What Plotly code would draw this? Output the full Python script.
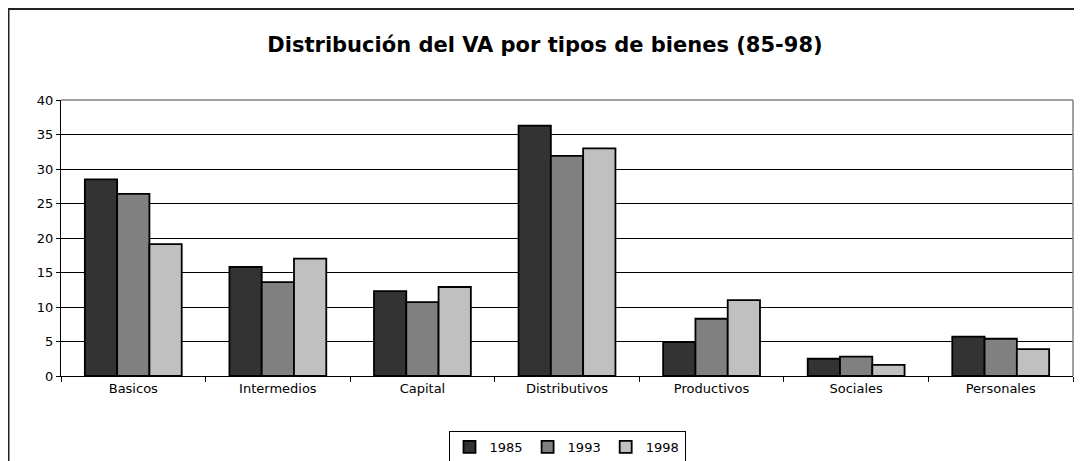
import plotly.graph_objects as go

categories = ["Basicos", "Intermedios", "Capital", "Distributivos", "Productivos", "Sociales", "Personales"]
years = ["1985", "1993", "1998"]
v1985 = [28.5, 15.8, 12.3, 36.3, 4.9, 2.5, 5.7]
v1993 = [26.4, 13.6, 10.7, 31.9, 8.3, 2.8, 5.4]
v1998 = [19.1, 17.0, 12.9, 33.0, 11.0, 1.6, 3.9]
colors = ["#333333", "#808080", "#C0C0C0"]
y_ticks = [0, 5, 10, 15, 20, 25, 30, 35, 40]

# page body has an 8px margin, so the figure origin is at (8, 8) of the window
OFF = 8
W, H = 1082 - OFF, 461 - OFF
L, T = 61 - OFF, 100 - OFF
pw, ph = 1012, 276
R = W - L - pw
B = H - T - ph

def px_x(p):  # window pixel -> paper x
    return (p - OFF - L) / pw

def px_y(p):  # window pixel -> paper y
    return (H - B - (p - OFF)) / ph

FONT = "DejaVu Sans, Liberation Sans, Arial, sans-serif"

fig = go.Figure()
for name, vals, c in zip(years, [v1985, v1993, v1998], colors):
    fig.add_trace(go.Bar(
        x=categories, y=vals, name=name,
        marker=dict(color=c, line=dict(color="#000000", width=1.8)),
    ))

fig.update_layout(
    width=W, height=H,
    margin=dict(l=L, r=R, t=T, b=B, autoexpand=False),
    paper_bgcolor="white", plot_bgcolor="white",
    barmode="group", bargap=0.33, bargroupgap=0,
    font=dict(family=FONT, size=13, color="#000000"),
    title=dict(text="<b>Distribución del VA por tipos de bienes (85-98)</b>",
               x=(545 - OFF) / W, xanchor="center",
               y=1 - (45 - OFF) / H, yanchor="middle",
               font=dict(family=FONT, size=21, color="#000000")),
    showlegend=True,
    legend=dict(orientation="h", x=0.5, xanchor="center",
                y=px_y(431), yanchor="top",
                bordercolor="#000000", borderwidth=1,
                font=dict(family=FONT, size=13), itemwidth=30,
                tracegroupgap=0),
)
fig.update_xaxes(
    type="category", showline=True, linecolor="#000000", linewidth=1,
    ticks="outside", tickson="boundaries", ticklen=5, tickcolor="#000000",
    showgrid=False, mirror=False, tickfont=dict(size=13), automargin=False,
)
fig.update_yaxes(
    range=[0, 40], tickvals=y_ticks, ticktext=[str(t) for t in y_ticks],
    showline=True, linecolor="#000000", linewidth=1,
    ticks="outside", ticklen=4, tickcolor="#000000",
    showgrid=True, gridcolor="#000000", gridwidth=1,
    zeroline=False, tickfont=dict(size=13), automargin=False,
)
# plot area border (top and right, gray)
fig.add_shape(type="line", xref="paper", yref="paper", x0=0, x1=1, y0=1, y1=1,
              line=dict(color="#808080", width=1.5))
fig.add_shape(type="line", xref="paper", yref="paper", x0=1, x1=1, y0=0, y1=1,
              line=dict(color="#808080", width=1.5))
# outer chart frame (cropped by the window)
fig.add_shape(type="rect", xref="paper", yref="paper",
              x0=px_x(8.5), x1=px_x(1100), y0=px_y(480), y1=px_y(9),
              line=dict(color="#222222", width=2), layer="below")

fig.write_html("out.html")
